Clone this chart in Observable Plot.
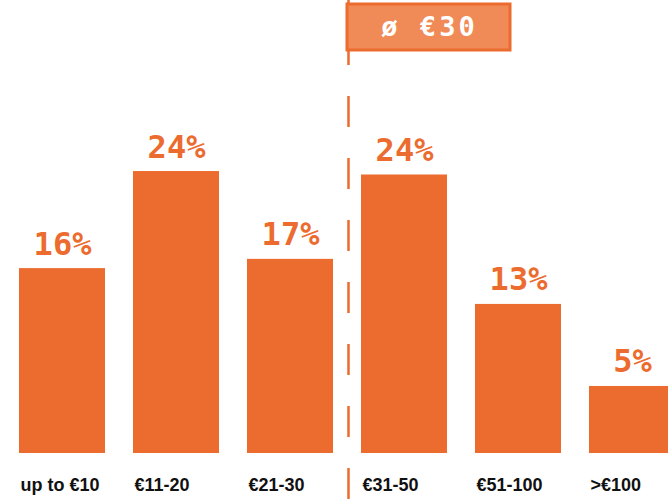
<!DOCTYPE html>
<html>
<head>
<meta charset="utf-8">
<script src="https://cdn.jsdelivr.net/npm/d3@7"></script>
<script src="https://cdn.jsdelivr.net/npm/@observablehq/plot@0.6"></script>
<style>
  html, body { margin: 0; padding: 0; background: #fff; }
  #chart svg { display: block; }
</style>
</head>
<body>
<div id="chart"></div>
<script>
const categories = ["up to €10", "€11-20", "€21-30", "€31-50", "€51-100", ">€100"];
const shares = [16.0, 24.4, 16.8, 24.1, 12.9, 5.8];
const shareLabels = ["16%", "24%", "17%", "24%", "13%", "5%"];
const averageLabel = "ø €30";
const averageBefore = "€31-50";

const data = categories.map((c, i) => ({category: c, share: shares[i], label: shareLabels[i]}));

const orange = "#EC6B2F";
const boxFill = "#F08A56";
const mono = "'DejaVu Sans Mono', monospace";

const chart = Plot.plot({
  width: 668,
  height: 499,
  marginTop: 0,
  marginRight: 0,
  marginLeft: 0,
  marginBottom: 46,
  x: {domain: categories, range: [17, 675.6], paddingInner: 0.25, paddingOuter: 0, axis: null},
  y: {domain: [0, 39.2], range: [453, 0], axis: null},
  marks: [
    Plot.barY(data, {x: "category", y: "share", fill: orange}),
    Plot.text(data, {
      x: "category", y: "share", text: "label",
      lineAnchor: "bottom", dy: -14,
      fill: orange, fontSize: 32, fontWeight: "bold", fontFamily: mono
    }),
    Plot.text(categories, {
      x: d => d, text: d => d,
      frameAnchor: "bottom", lineAnchor: "middle", textAnchor: "start",
      dx: -42, dy: 32,
      fill: "#111", fontSize: 18, fontWeight: "bold", fontFamily: "'Liberation Sans', Arial, sans-serif"
    }),
    Plot.ruleX([averageBefore], {
      x: d => d, dx: -56,
      y1: -46 / 11.556, y2: 39.2,
      stroke: orange, strokeWidth: 2.5, strokeDasharray: "31,31"
    }),
    Plot.rect([averageBefore], {
      x: d => d, insetLeft: -14, insetRight: -63,
      insetTop: 4, insetBottom: 403,
      fill: boxFill, stroke: orange, strokeWidth: 3
    }),
    Plot.text([averageLabel], {
      x: () => averageBefore, text: d => d,
      frameAnchor: "top", lineAnchor: "middle", dx: 25, dy: 27,
      fill: "#fff", fontSize: 27, fontWeight: "bold", fontFamily: mono
    })
  ]
});

chart.querySelectorAll("text").forEach(t => {
  if (t.textContent === averageLabel) t.setAttribute("letter-spacing", "3");
});
document.getElementById("chart").append(chart);
</script>
</body>
</html>
